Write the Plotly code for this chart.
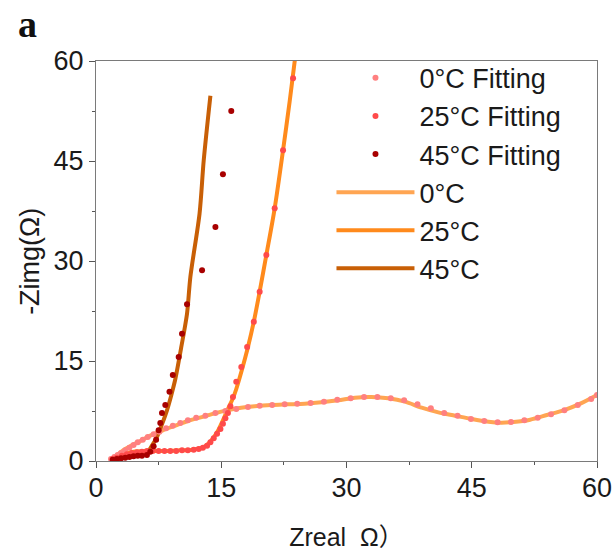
import plotly.graph_objects as go

# ---- measured curves (lines) ----
x_0C = [1.7, 2.5, 3.5, 5, 6.5, 8, 9.5, 11, 13, 15, 17, 19, 21, 23, 25, 27, 29, 31, 33, 35, 37, 39, 41, 43, 45, 47, 48.5, 50, 52, 54, 56, 58, 60]
y_0C = [0.2, 0.9, 1.8, 2.8, 3.8, 4.6, 5.3, 6.0, 6.7, 7.4, 7.9, 8.2, 8.4, 8.5, 8.6, 8.8, 9.1, 9.5, 9.6, 9.4, 8.9, 8.0, 7.3, 6.8, 6.3, 5.9, 5.75, 5.85, 6.2, 6.9, 7.6, 8.6, 9.9]

x_25C = [1.8, 2.5, 3.5, 4.5, 6, 8, 10, 11.5, 12.8, 13.7, 14.5, 15.2, 15.8, 16.4, 16.8, 17.5, 18.2, 18.9, 19.6, 20.4, 21.4, 22.4, 23.2, 23.8, 24.1]
y_25C = [0.2, 0.7, 1.1, 1.4, 1.5, 1.5, 1.6, 1.7, 2.0, 2.9, 4.3, 6.1, 7.8, 9.4, 10.8, 13.8, 17.1, 20.9, 25.4, 30.9, 37.9, 46.6, 54.0, 60.0, 63.0]

x_45C = [1.8, 2.5, 3.5, 4.5, 5.5, 6.1, 6.7, 7.3, 7.9, 8.5, 9.0, 9.5, 10.2, 10.9, 11.3, 12.4, 12.9, 13.7]
y_45C = [0.2, 0.5, 0.7, 0.8, 0.9, 1.2, 2.3, 3.6, 5.5, 7.6, 9.8, 12.3, 17.0, 22.1, 27.6, 37.1, 45.1, 54.8]

# ---- fitting points (markers) ----
xf_0C = [1.8, 2.2, 2.6, 3.0, 3.5, 4.0, 4.5, 5.0, 5.6, 6.2, 6.9, 7.6, 8.4, 9.2, 10.1, 11.0, 12.0, 13.1, 14.3, 15.5, 16.8, 18.2, 19.6, 21.1, 22.6, 24.1, 25.7, 27.3, 28.9, 30.5, 32.1, 33.7, 35.3, 36.9, 38.5, 40.1, 41.7, 43.3, 44.9, 46.5, 48.1, 49.7, 51.3, 52.9, 54.5, 56.1, 57.7, 59.3, 60.0]
yf_0C = [0.3, 0.6, 0.9, 1.2, 1.6, 2.0, 2.4, 2.8, 3.2, 3.6, 4.0, 4.4, 4.9, 5.3, 5.7, 6.1, 6.5, 6.8, 7.2, 7.5, 7.8, 8.1, 8.3, 8.4, 8.5, 8.6, 8.7, 8.9, 9.2, 9.4, 9.6, 9.6, 9.4, 9.1, 8.5, 7.9, 7.2, 6.8, 6.3, 6.0, 5.8, 5.85, 6.1, 6.5, 7.0, 7.6, 8.4, 9.3, 9.9]

xf_25C = [2.0, 2.5, 3.1, 3.7, 4.3, 4.9, 5.5, 6.1, 6.8, 7.5, 8.2, 8.9, 9.6, 10.3, 11.0, 11.7, 12.3, 12.8, 13.3, 13.7, 14.1, 14.5, 14.9, 15.2, 15.5, 15.8, 16.1, 16.4, 16.8, 17.4, 18.1, 18.9, 19.6, 20.4, 21.4, 22.4, 23.6]
yf_25C = [0.3, 0.5, 0.8, 1.0, 1.2, 1.3, 1.4, 1.5, 1.5, 1.5, 1.5, 1.5, 1.5, 1.6, 1.6, 1.7, 1.8, 2.0, 2.3, 2.8, 3.4, 4.1, 4.8, 5.6, 6.4, 7.2, 8.2, 9.6, 11.9, 14.1, 17.1, 20.9, 25.4, 30.9, 37.9, 46.6, 57.4]

xf_45C = [2.0, 2.5, 3.0, 3.5, 4.0, 4.5, 5.0, 5.5, 6.1, 6.5, 6.9, 7.2, 7.5, 7.7, 7.9, 8.3, 8.8, 9.2, 9.9, 10.3, 10.9, 12.7, 14.3, 15.2, 16.2]
yf_45C = [0.2, 0.3, 0.4, 0.5, 0.6, 0.7, 0.8, 0.8, 0.9, 1.4, 2.2, 3.2, 4.6, 5.7, 7.2, 8.4, 10.4, 12.9, 15.6, 19.1, 23.5, 28.6, 35.1, 43.0, 52.5]

fig = go.Figure()

line_specs = [
    ("0°C", x_0C, y_0C, "#FFA552"),
    ("25°C", x_25C, y_25C, "#FF8A1C"),
    ("45°C", x_45C, y_45C, "#C85F06"),
]
for i, (name, xs, ys, col) in enumerate(line_specs):
    fig.add_trace(go.Scatter(
        x=xs, y=ys, mode="lines", name=name,
        line=dict(color=col, width=4, shape="spline", smoothing=0.8),
        legendrank=10 + i,
    ))

marker_specs = [
    ("0°C Fitting", xf_0C, yf_0C, "#FF8080"),
    ("25°C Fitting", xf_25C, yf_25C, "#FF4A4A"),
    ("45°C Fitting", xf_45C, yf_45C, "#A80000"),
]
for i, (name, xs, ys, col) in enumerate(marker_specs):
    fig.add_trace(go.Scatter(
        x=xs, y=ys, mode="markers", name=name,
        marker=dict(color=col, size=6, line=dict(width=0)),
        legendrank=1 + i,
    ))

axis_common = dict(
    showgrid=False, zeroline=False, automargin=False,
    showline=True, linecolor="#7a7a7a", linewidth=1.2, mirror=True,
    ticks="outside", ticklen=6, tickcolor="#555", tickwidth=1,
    tickfont=dict(family="Liberation Sans, Arial", size=27, color="#1a1a1a"),
    minor=dict(ticks="outside", ticklen=3, dtick=7.5, tickcolor="#555", showgrid=False),
    range=[0, 60], tick0=0, dtick=15,
)

fig.update_xaxes(**axis_common, ticklabelstandoff=-4,
                 title=dict(text="Zreal  Ω）", font=dict(family="Liberation Sans, Noto Sans CJK SC", size=25, color="#1a1a1a"), standoff=26))
fig.update_yaxes(**axis_common)

# y-axis title placed as rotated text
fig.add_annotation(text="-Zimg(Ω)", xref="paper", yref="paper", x=-0.132, y=0.5,
                   xanchor="center", yanchor="middle", textangle=-90, showarrow=False,
                   font=dict(family="Liberation Sans, Arial", size=27, color="#1a1a1a"))

fig.add_annotation(text="<b>a</b>", xref="paper", yref="paper", x=-0.16, y=1.15,
                   xanchor="left", yanchor="top", showarrow=False,
                   font=dict(family="Liberation Serif, Times New Roman", size=38, color="#111"))

fig.update_layout(
    width=615, height=551,
    margin=dict(l=96, r=18, t=61, b=90, autoexpand=False),
    paper_bgcolor="white", plot_bgcolor="white",
    showlegend=True,
    legend=dict(x=0.47, y=1.018, xanchor="left", yanchor="top",
                bgcolor="rgba(0,0,0,0)", borderwidth=0,
                font=dict(family="Liberation Sans, Arial", size=27, color="#1a1a1a"),
                traceorder="normal", itemwidth=78),
)

fig.write_html("out.html", config={"displayModeBar": False},
               post_script="document.body.style.margin='0';document.body.style.overflow='hidden';")
